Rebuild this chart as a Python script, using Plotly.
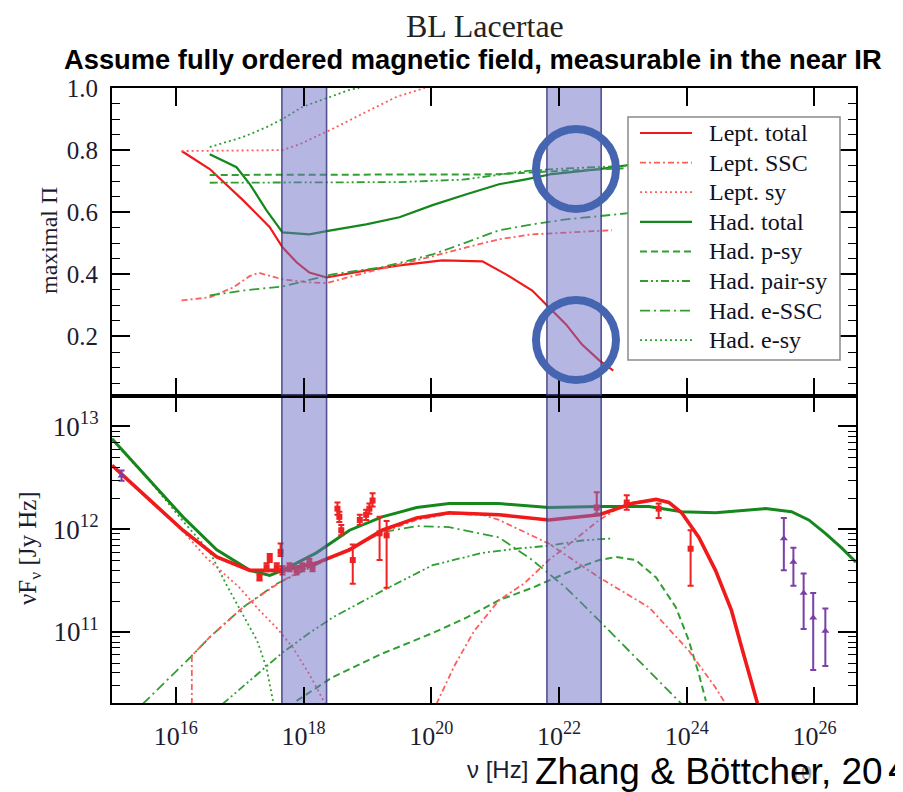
import plotly.graph_objects as go

# ---------------- DATA (x values are log10 of frequency [Hz]) ----------------
# Top panel: maximal polarization degree
top_lept_total_x = [16.09, 16.53, 17.05, 17.47, 17.67, 17.89, 18.09, 18.36, 18.98, 19.5, 20.17, 20.8, 21.17, 21.58, 21.84, 22.11, 22.36, 22.63, 22.85]
top_lept_total_y = [0.797, 0.739, 0.639, 0.552, 0.487, 0.439, 0.406, 0.390, 0.413, 0.429, 0.445, 0.442, 0.400, 0.348, 0.294, 0.239, 0.174, 0.123, 0.09]

top_lept_ssc_x = [16.09, 16.53, 16.9, 17.16, 17.3, 17.47, 17.67, 18.09, 18.36, 18.98, 19.5, 20.02, 20.55, 21.06, 21.58, 22.11, 22.83]
top_lept_ssc_y = [0.316, 0.326, 0.358, 0.395, 0.405, 0.395, 0.384, 0.374, 0.372, 0.406, 0.432, 0.458, 0.487, 0.513, 0.529, 0.535, 0.542]

top_lept_sy_x = [16.09, 17.0, 17.67, 17.94, 18.45, 18.98, 19.45, 19.9]
top_lept_sy_y = [0.797, 0.798, 0.80, 0.819, 0.868, 0.923, 0.971, 1.0]

top_had_total_x = [16.53, 16.95, 17.16, 17.42, 17.67, 18.09, 18.36, 18.98, 19.5, 20.02, 20.55, 21.06, 21.48, 21.89, 22.63, 23.09]
top_had_total_y = [0.787, 0.745, 0.690, 0.606, 0.535, 0.529, 0.539, 0.561, 0.584, 0.623, 0.658, 0.690, 0.706, 0.723, 0.739, 0.752]

top_had_psy_x = [16.53, 18.0, 20.0, 21.0, 22.0, 22.5, 23.1]
top_had_psy_y = [0.72, 0.72, 0.72, 0.722, 0.733, 0.738, 0.742]

top_had_pairsy_x = [16.53, 18.0, 19.5, 20.5, 21.0, 21.5, 22.0, 22.5, 23.1]
top_had_pairsy_y = [0.695, 0.695, 0.697, 0.705, 0.72, 0.733, 0.74, 0.745, 0.75]

top_had_essc_x = [16.53, 17.05, 17.67, 18.09, 18.45, 19.23, 20.02, 20.55, 21.06, 21.58, 22.11, 23.09]
top_had_essc_y = [0.332, 0.348, 0.361, 0.381, 0.40, 0.423, 0.464, 0.503, 0.542, 0.561, 0.577, 0.597]

top_had_esy_x = [16.53, 17.05, 17.42, 17.67, 17.98, 18.72, 18.87]
top_had_esy_y = [0.810, 0.842, 0.874, 0.90, 0.939, 0.994, 1.0]

# Bottom panel: log10 of nu F_nu [Jy Hz]
bot_lept_total_x = [15.0, 15.59, 16.11, 16.64, 17.16, 17.67, 18.2, 18.72, 19.23, 19.77, 20.28, 21.06, 21.84, 22.63, 23.14, 23.52, 23.72, 23.92, 24.19, 24.45, 24.7, 24.86, 25.11]
bot_lept_total_y = [12.62, 12.28, 11.99, 11.73, 11.60, 11.60, 11.67, 11.80, 11.99, 12.11, 12.16, 12.14, 12.09, 12.14, 12.25, 12.29, 12.26, 12.16, 11.92, 11.60, 11.21, 10.85, 10.30]

bot_lept_ssc_x = [16.25, 16.25, 16.53, 17.05, 17.67, 18.3, 18.72, 19.23, 19.77, 20.28, 20.8, 21.06, 21.84, 22.63, 23.41, 24.03, 24.45, 24.61]
bot_lept_ssc_y = [10.30, 10.77, 10.95, 11.24, 11.50, 11.70, 11.80, 11.97, 12.09, 12.15, 12.14, 12.09, 11.86, 11.53, 11.24, 10.82, 10.46, 10.30]

bot_lept_ssc2_x = [20.08, 20.36, 20.67, 21.06, 21.45, 21.84, 22.23, 22.63, 22.89, 23.14, 23.52, 23.72, 23.92, 24.19, 24.45, 24.7, 24.86, 25.11]
bot_lept_ssc2_y = [10.30, 10.67, 11.01, 11.31, 11.47, 11.70, 11.89, 12.09, 12.19, 12.26, 12.29, 12.26, 12.16, 11.92, 11.60, 11.21, 10.85, 10.30]

bot_lept_sy_x = [15.0, 15.59, 16.11, 16.48, 17.0, 17.31, 17.58, 17.83, 18.09, 18.34]
bot_lept_sy_y = [12.61, 12.28, 11.98, 11.72, 11.43, 11.21, 11.04, 10.85, 10.59, 10.30]

bot_had_total_x = [15.0, 15.59, 16.11, 16.64, 17.16, 17.47, 17.67, 18.2, 18.72, 19.23, 19.77, 20.28, 21.06, 21.84, 22.63, 23.41, 23.92, 24.45, 25.23, 25.64, 25.91, 26.17, 26.42, 26.65]
bot_had_total_y = [12.88, 12.48, 12.12, 11.80, 11.60, 11.55, 11.60, 11.77, 11.99, 12.12, 12.21, 12.25, 12.25, 12.21, 12.22, 12.22, 12.17, 12.16, 12.20, 12.17, 12.09, 11.96, 11.82, 11.68]

bot_had_psy_x = [17.89, 18.45, 19.23, 20.02, 20.55, 21.06, 21.58, 21.84, 22.36, 22.63, 22.89, 23.2, 23.52, 23.83, 24.03, 24.19, 24.3]
bot_had_psy_y = [10.33, 10.56, 10.79, 10.99, 11.14, 11.31, 11.43, 11.50, 11.64, 11.70, 11.73, 11.70, 11.53, 11.24, 10.92, 10.59, 10.33]

bot_had_pairsy_x = [16.73, 17.16, 17.67, 18.09, 18.45, 19.23, 20.02, 20.8, 21.33, 21.84, 22.36, 22.83]
bot_had_pairsy_y = [10.30, 10.53, 10.80, 10.99, 11.14, 11.40, 11.65, 11.77, 11.81, 11.84, 11.89, 11.91]

bot_had_essc_x = [15.48, 15.86, 16.22, 16.53, 17.05, 17.58, 18.3, 18.72, 19.23, 19.77, 20.28, 21.06, 21.58, 22.11, 22.63, 23.14, 23.67, 23.92]
bot_had_essc_y = [10.30, 10.53, 10.75, 10.95, 11.24, 11.47, 11.68, 11.81, 11.97, 12.03, 12.02, 11.92, 11.70, 11.43, 11.11, 10.79, 10.46, 10.30]

bot_had_esy_x = [15.0, 15.59, 16.11, 16.53, 16.8, 17.05, 17.27, 17.42, 17.53]
bot_had_esy_y = [12.87, 12.47, 12.08, 11.78, 11.45, 11.17, 10.92, 10.65, 10.30]

# Observations (red squares) : x, y, lower, upper (log10)
obs_red_x = [17.31, 17.42, 17.47, 17.58, 17.64, 17.67, 17.78, 17.89, 17.98, 18.09, 18.14,
             18.53, 18.56, 18.59, 18.77, 18.88, 18.98, 19.03, 19.08, 19.19, 19.3,
             22.59, 23.06, 23.56, 24.06]
obs_red_y = [11.53, 11.63, 11.72, 11.63, 11.78, 11.60, 11.63, 11.60, 11.63, 11.67, 11.63,
             12.20, 12.12, 11.99, 11.70, 12.09, 12.14, 12.20, 12.28, 11.96, 11.94,
             12.21, 12.26, 12.20, 11.81]
obs_red_lo = [11.50, 11.59, 11.68, 11.59, 11.74, 11.56, 11.59, 11.56, 11.59, 11.63, 11.59,
              12.14, 12.07, 11.94, 11.47, 12.04, 12.09, 12.15, 12.22, 11.70, 11.43,
              12.15, 12.19, 12.11, 11.45]
obs_red_hi = [11.56, 11.67, 11.76, 11.67, 11.86, 11.64, 11.67, 11.64, 11.67, 11.71, 11.67,
              12.26, 12.17, 12.04, 11.85, 12.14, 12.19, 12.25, 12.35, 12.12, 12.08,
              12.36, 12.33, 12.25, 11.99]

# Observations (purple triangles)
obs_pur_x = [15.15, 25.52, 25.67, 25.83, 25.98, 26.17]
obs_pur_y = [12.52, 11.91, 11.68, 11.38, 11.14, 11.01]
obs_pur_lo = [12.47, 11.60, 11.45, 11.03, 10.63, 10.67]
obs_pur_hi = [12.57, 12.11, 11.82, 11.57, 11.38, 11.23]

# Shaded frequency bands (log10 nu)
bands = [(17.66, 18.36), (21.81, 22.66)]

# Axis ticks
x_tick_exp = [16, 18, 20, 22, 24, 26]
top_tick_vals = [0.2, 0.4, 0.6, 0.8, 1.0]
top_tick_text = ["0.2", "0.4", "0.6", "0.8", "1.0"]
bot_tick_exp = [11, 12, 13]

legend_names = ["Lept. total", "Lept. SSC", "Lept. sy", "Had. total",
                "Had. p-sy", "Had. pair-sy", "Had. e-SSC", "Had. e-sy"]

# ---------------- helpers ----------------
def nu(v):
    return [10.0 ** float(a) for a in v]

RED = "#f01a1a"
RED_L = "#ff5c5c"
GRN = "#15871c"
GRN_L = "#2f9f32"

styles = {
    "Lept. total": dict(color=RED, width=2.2, dash="solid"),
    "Lept. SSC": dict(color=RED_L, width=1.8, dash="6px,3px,2px,3px"),
    "Lept. sy": dict(color=RED_L, width=1.8, dash="2px,3px"),
    "Had. total": dict(color=GRN, width=2.2, dash="solid"),
    "Had. p-sy": dict(color=GRN_L, width=2.0, dash="7px,4px"),
    "Had. pair-sy": dict(color=GRN_L, width=1.8, dash="8px,3px,2px,3px,2px,3px"),
    "Had. e-SSC": dict(color=GRN_L, width=1.8, dash="10px,4px,2px,4px"),
    "Had. e-sy": dict(color=GRN_L, width=1.8, dash="2px,3px"),
}

fig = go.Figure()

top_series = [
    ("Lept. total", top_lept_total_x, top_lept_total_y),
    ("Lept. SSC", top_lept_ssc_x, top_lept_ssc_y),
    ("Lept. sy", top_lept_sy_x, top_lept_sy_y),
    ("Had. total", top_had_total_x, top_had_total_y),
    ("Had. p-sy", top_had_psy_x, top_had_psy_y),
    ("Had. pair-sy", top_had_pairsy_x, top_had_pairsy_y),
    ("Had. e-SSC", top_had_essc_x, top_had_essc_y),
    ("Had. e-sy", top_had_esy_x, top_had_esy_y),
]
for name, xs, ys in top_series:
    fig.add_trace(go.Scatter(x=nu(xs), y=ys, mode="lines", name=name,
                             line=styles[name], xaxis="x2", yaxis="y2",
                             legendgroup=name, showlegend=False))

bot_series = [
    ("Had. e-sy", bot_had_esy_x, bot_had_esy_y, None),
    ("Had. e-SSC", bot_had_essc_x, bot_had_essc_y, None),
    ("Had. pair-sy", bot_had_pairsy_x, bot_had_pairsy_y, None),
    ("Had. p-sy", bot_had_psy_x, bot_had_psy_y, None),
    ("Lept. sy", bot_lept_sy_x, bot_lept_sy_y, None),
    ("Lept. SSC", bot_lept_ssc_x, bot_lept_ssc_y, None),
    ("Lept. SSC", bot_lept_ssc2_x, bot_lept_ssc2_y, None),
    ("Had. total", bot_had_total_x, bot_had_total_y, 3.0),
    ("Lept. total", bot_lept_total_x, bot_lept_total_y, 3.6),
]
for name, xs, ys, w in bot_series:
    st = dict(styles[name])
    if w:
        st["width"] = w
    fig.add_trace(go.Scatter(x=nu(xs), y=nu(ys), mode="lines", name=name,
                             line=st, xaxis="x", yaxis="y",
                             legendgroup=name, showlegend=False))

# observations
fig.add_trace(go.Scatter(
    x=nu(obs_red_x), y=nu(obs_red_y), mode="markers", showlegend=False,
    marker=dict(symbol="square", size=6, color="#ee2222"),
    error_y=dict(type="data", symmetric=False,
                 array=[10.0 ** h - 10.0 ** v for h, v in zip(obs_red_hi, obs_red_y)],
                 arrayminus=[10.0 ** v - 10.0 ** l for l, v in zip(obs_red_lo, obs_red_y)],
                 color="#ee2222", thickness=2, width=3),
    xaxis="x", yaxis="y"))
fig.add_trace(go.Scatter(
    x=nu(obs_pur_x), y=nu(obs_pur_y), mode="markers", showlegend=False,
    marker=dict(symbol="triangle-up", size=7, color="#7b3fa6"),
    error_y=dict(type="data", symmetric=False,
                 array=[10.0 ** h - 10.0 ** v for h, v in zip(obs_pur_hi, obs_pur_y)],
                 arrayminus=[10.0 ** v - 10.0 ** l for l, v in zip(obs_pur_lo, obs_pur_y)],
                 color="#7b3fa6", thickness=2, width=3),
    xaxis="x", yaxis="y"))

# shaded bands, both panels
for a, b in bands:
    fig.add_trace(go.Scatter(x=nu([a, a, b, b, a]), y=[-0.2, 1.2, 1.2, -0.2, -0.2],
                             mode="lines", fill="toself", fillcolor="rgba(110,110,200,0.5)",
                             line=dict(color="rgba(60,60,125,0.85)", width=1.6),
                             hoverinfo="skip", showlegend=False, xaxis="x2", yaxis="y2"))
    fig.add_trace(go.Scatter(x=nu([a, a, b, b, a]), y=nu([9.5, 14, 14, 9.5, 9.5]),
                             mode="lines", fill="toself", fillcolor="rgba(110,110,200,0.5)",
                             line=dict(color="rgba(60,60,125,0.85)", width=1.6),
                             hoverinfo="skip", showlegend=False, xaxis="x", yaxis="y"))

SERIF = "Liberation Serif, Times New Roman, serif"
SANS = "Liberation Sans, Arial, sans-serif"
TXT = "#1c1c30"

axis_common = dict(showline=True, linecolor="black", linewidth=2, mirror="allticks",
                   ticks="inside", tickcolor="black", showgrid=False, zeroline=False)

# The page adds an 8 px body margin, so the figure is 8 px smaller than the window.
fig.update_layout(
    width=895, height=784, autosize=False,
    margin=dict(l=104, r=47, t=80, b=89),
    paper_bgcolor="white", plot_bgcolor="white",
    showlegend=False,
    xaxis=dict(domain=[0, 1], anchor="y", type="log", range=[15.0, 26.65],
               tickvals=[10.0 ** e for e in x_tick_exp],
               ticktext=["10<sup>%d</sup>" % e for e in x_tick_exp],
               ticklen=16, tickwidth=1.5, ticklabelstandoff=9,
               tickfont=dict(family=SERIF, size=26, color=TXT), **axis_common),
    xaxis2=dict(domain=[0, 1], anchor="y2", type="log", range=[15.0, 26.65], matches="x",
                tickvals=[10.0 ** e for e in x_tick_exp], showticklabels=False,
                ticklen=18, tickwidth=1.5, **axis_common),
    yaxis=dict(domain=[0, 0.5], anchor="x", type="log", range=[10.31, 13.30],
               tickvals=[10.0 ** e for e in bot_tick_exp],
               ticktext=["10<sup>%d</sup>" % e for e in bot_tick_exp],
               ticklen=18, tickwidth=2, ticklabelstandoff=6,
               minor=dict(tickmode="array",
                          tickvals=[k * 10.0 ** e for e in [10, 11, 12, 13] for k in range(2, 10)],
                          ticks="inside", ticklen=8, tickwidth=1.2, tickcolor="black"),
               tickfont=dict(family=SERIF, size=27, color=TXT), **axis_common),
    yaxis2=dict(domain=[0.5, 1], anchor="x2", range=[0.01, 1.0],
                tickvals=top_tick_vals, ticktext=top_tick_text,
                ticklen=18, tickwidth=2, ticklabelstandoff=7,
                minor=dict(dtick=0.05, tick0=0, ticks="inside", ticklen=8, tickwidth=1.2,
                           tickcolor="black"),
                tickfont=dict(family=SERIF, size=25, color=TXT), **axis_common),
)

# page pixel -> paper coordinates (plot area spans x 112..856, y 88..703 on the page)
def px_x(p):
    return (p - 112) / 744.0

def px_y(p):
    return (703 - p) / 615.0

annotations = [
    dict(text="BL Lacertae", x=px_x(485), y=px_y(26), font=dict(family=SERIF, size=32, color="#222222")),
    dict(text="<b>Assume fully ordered magnetic field, measurable in the near IR</b>",
         x=px_x(473), y=px_y(59), font=dict(family=SANS, size=27.3, color="black")),
    dict(text="maximal Π", x=px_x(49), y=px_y(241), textangle=-90,
         font=dict(family=SERIF, size=24, color=TXT)),
    dict(text="νF<sub>ν</sub> [Jy Hz]", x=px_x(29), y=px_y(548), textangle=-90,
         font=dict(family=SERIF, size=25, color=TXT)),
    dict(text="ν [Hz]", x=px_x(497), y=px_y(769),
         font=dict(family=SANS, size=24, color=TXT)),
    dict(text="10", x=px_x(801), y=px_y(772),
         font=dict(family=SERIF, size=22, color="#9a9a9a")),
    dict(text="Zhang & Böttcher, 20", x=px_x(533), y=px_y(771), xanchor="left",
         font=dict(family=SANS, size=37, color="black")),
    dict(text="4", x=px_x(886), y=px_y(767), xanchor="left",
         font=dict(family=SANS, size=44, color="black")),
]

# legend drawn as a framed box with line samples and labels
leg_left, leg_right, leg_top, leg_bot = 628, 840, 117, 360
fig.add_shape(type="rect", xref="paper", yref="paper",
              x0=px_x(leg_left), x1=px_x(leg_right), y0=px_y(leg_bot), y1=px_y(leg_top),
              fillcolor="white", line=dict(color="#8a8a8a", width=1.5), layer="above")
for i, name in enumerate(legend_names):
    yy = 133 + 29.6 * i
    st = dict(styles[name])
    fig.add_shape(type="line", xref="paper", yref="paper",
                  x0=px_x(640), x1=px_x(692), y0=px_y(yy), y1=px_y(yy),
                  line=st, layer="above")
    annotations.append(dict(text=name, x=px_x(707), y=px_y(yy), xanchor="left",
                            font=dict(family=SERIF, size=24, color="#111122")))

for a in annotations:
    a.setdefault("xanchor", "center")
    a.update(xref="paper", yref="paper", yanchor="middle", showarrow=False)
fig.update_layout(annotations=annotations)

# highlight rings
for cx, cy in [(576, 169), (576, 340)]:
    r = 40
    fig.add_shape(type="circle", xref="paper", yref="paper",
                  x0=px_x(cx - r), x1=px_x(cx + r), y0=px_y(cy + r), y1=px_y(cy - r),
                  line=dict(color="#4565b0", width=8), layer="above")

fig.write_html("out.html")
